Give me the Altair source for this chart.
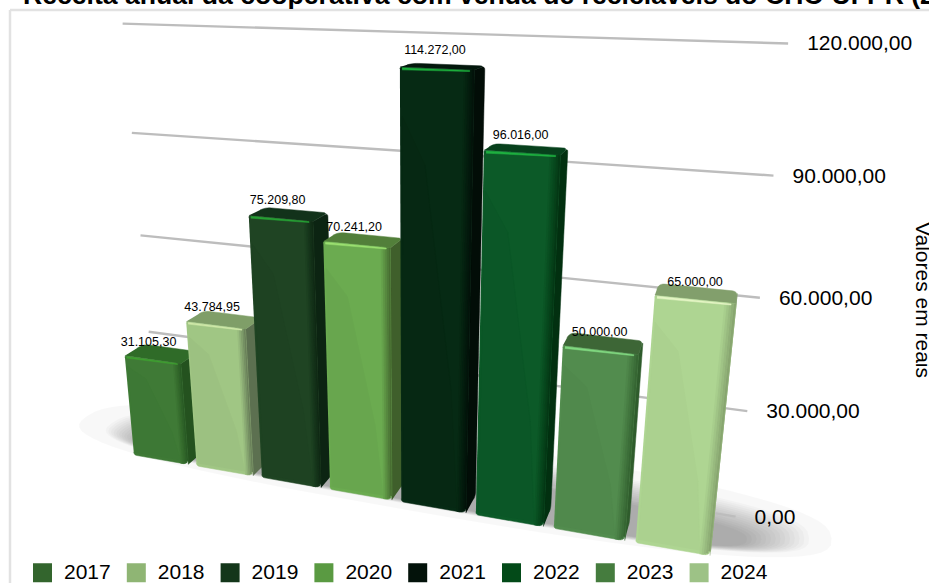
import math
import altair as alt
import pandas as pd

# Annual revenue per year, in reais
years = ["2017", "2018", "2019", "2020", "2021", "2022", "2023", "2024"]
revenue = [31105.30, 43784.95, 75209.80, 70241.20, 114272.00, 96016.00, 50000.00, 65000.00]
axis_ticks = [0, 30000, 60000, 90000, 120000]

legend_colors = ["#33652d", "#8fb574", "#13361a", "#5a9a42", "#03120a", "#034a18", "#457c3e", "#9dc286"]
front_colors = ["#3f7a36", "#a0c684", "#1f4423", "#6bab50", "#062a14", "#0c5a28", "#528c4e", "#aed592"]
top_colors = ["#2f6b28", "#7f9e68", "#12321a", "#527f3a", "#03170c", "#07401c", "#3d6636", "#829f6c"]
side_colors = ["#24521f", "#5c7050", "#0c2412", "#3f5f2b", "#020d07", "#023010", "#2f5c2c", "#7f9a68"]
glow_colors = ["#3ea030", "#cfe8a8", "#27a035", "#9be070", "#1cae3c", "#1fb040", "#80d880", "#e4f5c4"]

# Three-point perspective: screen position of the first bar's foot and the vanishing points
ORIGIN = (134.0, 455.0)
VANISH_X = (-2843.0, -65.0)
VANISH_Y = (411.0, 3440.0)
VANISH_Z = (770.0, -40.0)
PER_BAR = -0.0206
PER_REAL = -0.1035 / 100000
BAR_WIDTH = 0.87
BAR_DEPTH = 0.029
WALL_DEPTH = 0.09
WALL_LEFT = -0.553
WALL_RIGHT = 8.14


def project(bar, value, depth):
    a, b = PER_BAR * bar, PER_REAL * value
    w = 1 + a + b + depth
    sx = ORIGIN[0] + a * VANISH_X[0] + b * VANISH_Y[0] + depth * VANISH_Z[0]
    sy = ORIGIN[1] + a * VANISH_X[1] + b * VANISH_Y[1] + depth * VANISH_Z[1]
    return sx / w, sy / w


def wall_value(value):
    # the value wall stands a little below the bar floor
    return -4700 + 1.04 * value


def round_corners(points, radii):
    out = []
    n = len(points)
    for i, (p, r) in enumerate(zip(points, radii)):
        if r <= 0:
            out.append(p)
            continue
        prev, nxt = points[i - 1], points[(i + 1) % n]
        def toward(q):
            d = math.hypot(q[0] - p[0], q[1] - p[1]) or 1
            k = min(r, d / 2) / d
            return p[0] + (q[0] - p[0]) * k, p[1] + (q[1] - p[1]) * k
        s, e = toward(prev), toward(nxt)
        for t in [i / 6 for i in range(7)]:
            out.append((
                (1 - t) ** 2 * s[0] + 2 * t * (1 - t) * p[0] + t ** 2 * e[0],
                (1 - t) ** 2 * s[1] + 2 * t * (1 - t) * p[1] + t ** 2 * e[1],
            ))
    return out


def blend(c1, c2, t):
    a = [int(c1[i:i + 2], 16) for i in (1, 3, 5)]
    b = [int(c2[i:i + 2], 16) for i in (1, 3, 5)]
    return "#" + "".join(f"{round(x + (y - x) * t):02x}" for x, y in zip(a, b))


def brl(v):
    return f"{v:,.2f}".replace(",", "#").replace(".", ",").replace("#", ".")


shapes = []


def add_shape(points, color):
    shapes.append((len(shapes), points, color))


# Floor shadow as nested rounded ovals, each one faint so they build a soft falloff
def floor_oval(cx, half_x, cz, half_z, power):
    pts = []
    for k in range(72):
        t = 2 * math.pi * k / 72
        c, s = math.cos(t), math.sin(t)
        ex = abs(c) ** power * (1 if c >= 0 else -1)
        ez = abs(s) ** power * (1 if s >= 0 else -1)
        pts.append(project(cx + half_x * ex, 0, cz + half_z * ez))
    return pts


shadow = [(floor_oval(3.93, 5.33, 0.055, 0.066, 0.75), 0.028)]
for n in range(14):
    f = n / 13
    shadow.append((floor_oval(4.05, 4.95 - 0.72 * f, 0.05 - 0.018 * f, 0.052 - 0.024 * f, 0.7), 0.022))

# One box per year, painted left to right so nearer bars overlap their neighbours
for i, v in enumerate(revenue):
    W, D = BAR_WIDTH, BAR_DEPTH
    side = [project(i + W, 0, 0), project(i + W, v, 0), project(i + W, v, D), project(i + W, 0, D)]
    add_shape(round_corners(side, [0, 0, 4, 4]), side_colors[i])
    top = [project(i, v, 0), project(i + W, v, 0), project(i + W, v, D), project(i, v, D)]
    add_shape(round_corners(top, [1, 0, 5, 6]), top_colors[i])
    front = [project(i, v, 0), project(i + W, v, 0), project(i + W, 0, 0), project(i, 0, 0)]
    add_shape(round_corners(front, [2, 2, 6, 3]), front_colors[i])
    # slightly deeper tone across the lower left of the face
    add_shape([project(i + W * 0.03, 900, 0), project(i + W * 0.03, v * 0.9, 0),
               project(i + W * 0.35, v * 0.8, 0), project(i + W * 0.75, v * 0.3, 0),
               project(i + W * 0.86, 900, 0)], blend(front_colors[i], side_colors[i], 0.06))
    # darkening bevel along the right edge of the face
    lifts = [0, 0, 150, 500, 1200]
    for k in range(5):
        x0 = i + W * (0.86 + 0.028 * k)
        x1 = i + W * (0.86 + 0.028 * (k + 1))
        shade = blend(front_colors[i], side_colors[i], 0.12 + 0.17 * k)
        add_shape([project(x0, v, 0), project(x1, v, 0), project(x1, lifts[k], 0), project(x0, lifts[k], 0)], shade)
    # thin glint under the top edge
    add_shape([project(i + W * 0.03, v - 150, 0), project(i + W * 0.94, v - 150, 0),
               project(i + W * 0.94, v - 400, 0), project(i + W * 0.03, v - 650, 0)], glow_colors[i])

rows = []
for pid, points, color in shapes:
    for n, (sx, sy) in enumerate(points):
        rows.append({"poly": pid, "pt": n, "sx": sx, "sy": sy, "c": color})
box_table = pd.DataFrame(rows)

shadow_rows = []
for pid, (points, alpha) in enumerate(shadow):
    for n, (sx, sy) in enumerate(points):
        shadow_rows.append({"poly": pid, "pt": n, "sx": sx, "sy": sy, "a": alpha})
shadow_table = pd.DataFrame(shadow_rows)

grid_rows = []
for t in axis_ticks:
    for n, bar in enumerate([WALL_LEFT, WALL_RIGHT]):
        sx, sy = project(bar, wall_value(t), WALL_DEPTH)
        grid_rows.append({"tick": t, "pt": n, "sx": sx, "sy": sy})
grid_table = pd.DataFrame(grid_rows)

tick_rows = []
for t in axis_ticks:
    sx, sy = project(WALL_RIGHT, wall_value(t), WALL_DEPTH)
    tick_rows.append({"sx": sx, "sy": sy, "label": brl(t)})
tick_table = pd.DataFrame(tick_rows)

label_rows = []
for i, v in enumerate(revenue):
    sx, sy = project(i + BAR_WIDTH / 2, v, 0)
    label_rows.append({"sx": sx + 0.57 * (i - 3.5), "sy": sy, "label": brl(v)})
label_table = pd.DataFrame(label_rows)

X = alt.X("sx:Q", scale=alt.Scale(domain=[0, 929], nice=False, zero=False), axis=None)
Y = alt.Y("sy:Q", scale=alt.Scale(domain=[0, 583], nice=False, zero=False, reverse=True), axis=None)
FONT = "Liberation Sans"

frame_left = alt.Chart(pd.DataFrame({"k": [0]})).mark_rule(color="#e2e2e2", strokeWidth=2.5).encode(
    x=alt.value(10), y=alt.value(10), y2=alt.value(583))
frame_top = alt.Chart(pd.DataFrame({"k": [0]})).mark_rule(color="#e2e2e2", strokeWidth=2.5).encode(
    x=alt.value(10), x2=alt.value(929), y=alt.value(10))

shadow_layer = alt.Chart(shadow_table).mark_line(strokeWidth=0).encode(
    x=X, y=Y, detail="poly:N", order="pt:Q",
    fill=alt.value("#000000"), fillOpacity=alt.FillOpacity("a:Q", scale=None))

grid_layer = alt.Chart(grid_table).mark_line(color="#bdbdbd", strokeWidth=2.4).encode(
    x=X, y=Y, detail="tick:N", order="pt:Q")

box_layer = alt.Chart(box_table).mark_line(strokeWidth=0.5).encode(
    x=X, y=Y, detail="poly:N", order="pt:Q",
    fill=alt.Fill("c:N", scale=None), stroke=alt.Stroke("c:N", scale=None))

tick_layer = alt.Chart(tick_table).mark_text(align="left", baseline="middle", dx=19, dy=1, fontSize=21, font=FONT, color="#000000").encode(
    x=X, y=Y, text="label:N")

value_layer = alt.Chart(label_table).mark_text(align="center", baseline="middle", dx=-2, dy=-18, fontSize=12.5, font=FONT, color="#000000").encode(
    x=X, y=Y, text="label:N")

axis_title = alt.Chart(pd.DataFrame({"t": ["Valores em reais"]})).mark_text(
    angle=90, align="center", baseline="middle", fontSize=21, font=FONT, color="#000000").encode(
    x=alt.value(922), y=alt.value(300), text="t:N")

chart_title = alt.Chart(pd.DataFrame({"t": ["Receita anual da cooperativa com venda de recicláveis do CHC-UFPR (2017-2024)"]})).mark_text(
    align="left", baseline="alphabetic", fontSize=26.6, fontWeight="bold", font=FONT, color="#000000").encode(
    x=alt.value(23), y=alt.value(4), text="t:N")

legend_layer = alt.Chart(pd.DataFrame({"year": years, "sx": [0.0] * 8, "sy": [0.0] * 8})).mark_square(size=1, opacity=0).encode(
    x=X, y=Y,
    color=alt.Color("year:N", scale=alt.Scale(domain=years, range=legend_colors), legend=alt.Legend(
        orient="none", legendX=32, legendY=562, columns=8, title=None, symbolType="square", symbolSize=361,
        symbolOpacity=1, symbolStrokeWidth=0, labelFontSize=21, labelFont=FONT, labelColor="#000000",
        labelOffset=11, columnPadding=14.8, padding=0)))

chart = alt.layer(
    frame_left, frame_top, shadow_layer, grid_layer, box_layer, tick_layer, value_layer,
    axis_title, chart_title, legend_layer,
).properties(
    width=929, height=583, padding=0, autosize=alt.AutoSizeParams(type="none"),
).configure_view(stroke=None)

chart.save("out.html", embed_options={"renderer": "svg", "actions": False})
